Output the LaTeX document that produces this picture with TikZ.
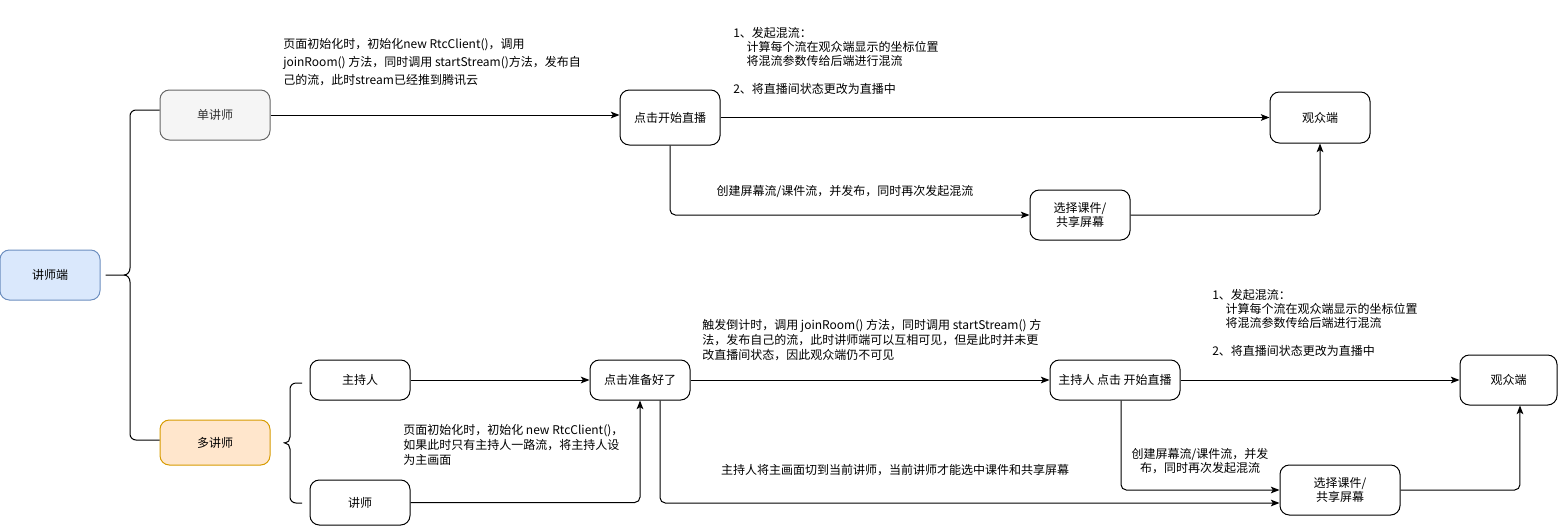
\documentclass[tikz,border=0pt]{standalone}
\usepackage{fontspec}
\setmainfont{Noto Sans CJK SC}
\usetikzlibrary{arrows.meta,calc}
\definecolor{figline}{RGB}{0,0,0}
\definecolor{jsdfill}{HTML}{DAE8FC}
\definecolor{jsdline}{HTML}{6C8EBF}
\definecolor{danfill}{HTML}{F5F5F5}
\definecolor{danline}{HTML}{666666}
\definecolor{dantext}{HTML}{333333}
\definecolor{duofill}{HTML}{FFE6CC}
\definecolor{duoline}{HTML}{D79B00}
\tikzset{
  box/.style  ={draw=figline, line width=0.75pt, rounded corners=7pt, inner sep=0pt, align=center, font=\fontsize{9}{11}\selectfont},
  ln/.style   ={draw=figline, line width=0.75pt},
  arr/.style  ={ln, rounded corners=4pt, -{Stealth[length=6.5pt,width=5pt,inset=1.5pt]}},
  note/.style ={font=\fontsize{9}{10.5}\selectfont, align=left, inner sep=0pt, anchor=north west},
}

\begin{document}
\begin{tikzpicture}[x=0.75pt,y=-0.75pt]
  \useasboundingbox (0,0) rectangle (1561,526);
  \node[box,fill=jsdfill,draw=jsdline,minimum width=75pt,minimum height=37.5pt] (jsd) at (50,275) {讲师端};
  \node[box,fill=danfill,draw=danline,text=dantext,minimum width=82.5pt,minimum height=37.5pt] (dan) at (215,115) {单讲师};
  \node[box,fill=duofill,draw=duoline,minimum width=82.5pt,minimum height=33.75pt] (duo) at (215,442.5) {多讲师};
  \node[box,minimum width=75pt,minimum height=41.25pt] (start) at (670,117.5) {点击开始直播};
  \node[box,minimum width=75pt,minimum height=38.25pt] (aud1) at (1320,117.5) {观众端};
  \node[box,minimum width=75pt,minimum height=37.5pt] (sel1) at (1080,215) {选择课件/\\共享屏幕};
  \node[box,minimum width=75pt,minimum height=30pt] (host) at (360,380) {主持人};
  \node[box,minimum width=75pt,minimum height=33.75pt] (lect) at (360,502.5) {讲师};
  \node[box,minimum width=75pt,minimum height=30pt] (ready) at (640,380) {点击准备好了};
  \node[box,minimum width=97.5pt,minimum height=30pt] (hstart) at (1115,380) {主持人 点击 开始直播};
  \node[box,minimum width=72.75pt,minimum height=37.5pt] (aud2) at (1508.5,380) {观众端};
  \node[box,minimum width=90pt,minimum height=37.5pt] (sel2) at (1340,490) {选择课件/\\共享屏幕};

  \draw[ln] ([xshift=3.75pt]jsd.east) -- (124,275) to[out=0,in=-90] (130,268) -- (130,116) to[out=90,in=180] (136,110) -- ([yshift=3.75pt]dan.west);
  \draw[ln] (124,275) to[out=0,in=90] (130,282) -- (130,434) to[out=-90,in=180] (136,440) -- ([yshift=1.875pt]duo.west);
  \coordinate (btop) at (302,383);
  \coordinate (bbot) at (302,503);
  \draw[ln] ([xshift=9.75pt]duo.east) -- (285,443) to[out=0,in=-90] (290,437) -- (290,389) to[out=90,in=180] (296,383) -- (btop);
  \draw[ln] (285,443) to[out=0,in=90] (290,449) -- (290,497) to[out=-90,in=180] (296,503) -- (bbot);

  \draw[arr] (dan.east) -- (dan.east -| start.west);
  \draw[arr] (start.east) -- (aud1.west);
  \draw[arr] (start.south) |- (sel1.west);
  \draw[arr] (sel1.east) -| (aud1.south);
  \draw[arr] (host.east) -- (ready.west);
  \draw[arr] (lect.east) -| (ready.south);
  \draw[arr] (ready.east) -- (hstart.west);
  \draw[arr] (hstart.east) -- (aud2.west);
  \draw[arr] ([xshift=15pt]ready.south) |- ([yshift=-9.75pt]sel2.west);
  \draw[arr] ([xshift=4.5pt]hstart.south) |- (sel2.west);
  \draw[arr] (sel2.east) -| ([xshift=8.6pt]aud2.south);

  \node[note,font=\fontsize{9}{13.5}\selectfont] (t1) at (283,38) {页面初始化时，初始化new RtcClient()，调用\\joinRoom() 方法，同时调用 startStream()方法，发布自\\己的流，此时stream已经推到腾讯云};
  \node[note] (t2) at (733,27) {1、发起混流：\\\hspace{10pt}计算每个流在观众端显示的坐标位置\\\hspace{10pt}将混流参数传给后端进行混流\\[10.5pt]2、将直播间状态更改为直播中};
  \node[note,anchor=center] (t3) at (845,192) {创建屏幕流/课件流，并发布，同时再次发起混流};
  \node[note,font=\fontsize{9}{11.25}\selectfont] (t4) at (702,319) {触发倒计时，调用 joinRoom() 方法，同时调用 startStream() 方\\法，发布自己的流，此时讲师端可以互相可见，但是此时并未更\\改直播间状态，因此观众端仍不可见};
  \node[note,font=\fontsize{9}{11.25}\selectfont] (t5) at (403,424) {页面初始化时，初始化 new RtcClient()，\\如果此时只有主持人一路流，将主持人设\\为主画面};
  \node[note,anchor=center] (t6) at (895,470) {主持人将主画面切到当前讲师，当前讲师才能选中课件和共享屏幕};
  \node[note,anchor=center,align=center] (t7) at (1200,461.5) {创建屏幕流/课件流，并发\\布，同时再次发起混流};
  \node[note] (t8) at (1212,289) {1、发起混流：\\\hspace{10pt}计算每个流在观众端显示的坐标位置\\\hspace{10pt}将混流参数传给后端进行混流\\[10.5pt]2、将直播间状态更改为直播中};
\end{tikzpicture}
\end{document}
